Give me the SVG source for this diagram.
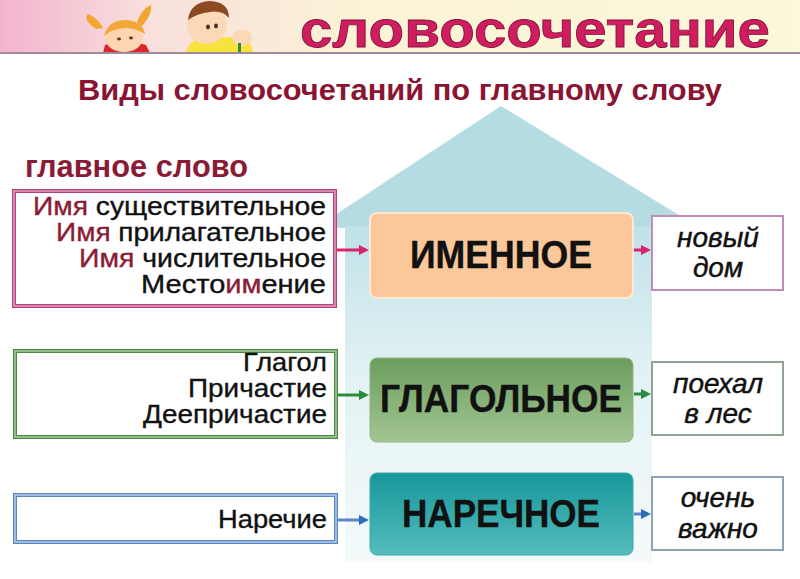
<svg xmlns="http://www.w3.org/2000/svg" width="800" height="579" viewBox="0 0 800 579">
  <defs>
    <linearGradient id="hdr" x1="0" y1="0" x2="1" y2="0">
      <stop offset="0" stop-color="#f3b3cf"/>
      <stop offset="0.18" stop-color="#f8dfdc"/>
      <stop offset="0.45" stop-color="#fbf3d6"/>
      <stop offset="1" stop-color="#fcf8db"/>
    </linearGradient>
    <linearGradient id="body" x1="0" y1="0" x2="0" y2="1">
      <stop offset="0" stop-color="#bfe2e8"/>
      <stop offset="0.45" stop-color="#e3f2f4"/>
      <stop offset="1" stop-color="#f4fafa"/>
    </linearGradient>
    <linearGradient id="gGreen" x1="0" y1="0" x2="0" y2="1">
      <stop offset="0" stop-color="#6b9d5e"/>
      <stop offset="1" stop-color="#a2c592"/>
    </linearGradient>
    <linearGradient id="gTeal" x1="0" y1="0" x2="0" y2="1">
      <stop offset="0" stop-color="#16979a"/>
      <stop offset="1" stop-color="#55bcbd"/>
    </linearGradient>
    <marker id="mPink" markerWidth="10" markerHeight="10" refX="4" refY="5" orient="auto" markerUnits="userSpaceOnUse">
      <path d="M0,0 L10,5 L0,10 z" fill="#d8236f"/>
    </marker>
    <marker id="mGreen" markerWidth="10" markerHeight="10" refX="4" refY="5" orient="auto" markerUnits="userSpaceOnUse">
      <path d="M0,0 L10,5 L0,10 z" fill="#2c8a3c"/>
    </marker>
    <marker id="mBlue" markerWidth="10" markerHeight="10" refX="4" refY="5" orient="auto" markerUnits="userSpaceOnUse">
      <path d="M0,0 L10,5 L0,10 z" fill="#2b6fb9"/>
    </marker>
    <style>
      .sans { font-family: "Liberation Sans", Arial, sans-serif; }
      .src { font-family: "Liberation Sans", Arial, sans-serif; font-size: 25px; fill: #111; stroke: #111; stroke-width: 0.35; text-anchor: end; }
      .red { fill: #8b1a35; stroke: #8b1a35; }
      .big { font-family: "Liberation Sans", Arial, sans-serif; font-size: 38px; font-weight: bold; fill: #111; stroke: #111; stroke-width: 0.4; text-anchor: middle; }
      .ex { font-family: "Liberation Sans", Arial, sans-serif; font-size: 28px; font-style: italic; fill: #111; stroke: #111; stroke-width: 0.45; text-anchor: middle; }
      .exbox { fill: #ffffff; stroke-width: 2; }
      .arrow { fill: none; stroke-width: 3; }
    </style>
  </defs>

  <rect x="0" y="0" width="800" height="579" fill="#ffffff"/>

  <!-- header -->
  <g id="header">
    <rect x="0" y="0" width="800" height="53" fill="url(#hdr)"/>
    <g id="girl">
      <path d="M96,29 C88,24 84,18 88,14 C94,16 100,22 103,28 Z" fill="#f2a531"/>
      <path d="M137,22 C140,14 144,8 151,5 C152,12 148,19 142,26 Z" fill="#f2a531"/>
      <path d="M103,53 L105,45 Q124,38 146,45 L150,53 Z" fill="#d8262b"/>
      <ellipse cx="124" cy="38" rx="19" ry="14" fill="#fcd6b1"/>
      <path d="M104,36 Q108,20 126,20 Q143,21 145,34 Q134,27 124,28 Q112,29 104,36 Z" fill="#f3a738"/>
      <ellipse cx="119" cy="39" rx="2" ry="1.4" fill="#5a3a28"/>
      <ellipse cx="131" cy="38" rx="2" ry="1.4" fill="#5a3a28"/>
    </g>
    <g id="boy">
      <path d="M186,53 Q188,40 205,38 L235,37 Q252,38 253,53 Z" fill="#f6e33c"/>
      <ellipse cx="207" cy="25" rx="20" ry="19" fill="#fcd9b6"/>
      <path d="M188,20 Q190,2 210,1 Q229,2 229,18 Q222,10 210,12 Q198,13 188,20 Z" fill="#8b4a22"/>
      <ellipse cx="208" cy="27" rx="2" ry="2.4" fill="#4a3020"/>
      <ellipse cx="216" cy="26" rx="2" ry="2.4" fill="#4a3020"/>
      <ellipse cx="242" cy="38" rx="10" ry="8" fill="#fcd9b6"/>
      <rect x="238" y="43" width="3" height="10" fill="#2f8a3a"/>
    </g>
    <line x1="0" y1="53" x2="800" y2="53" stroke="#a0899b" stroke-width="2"/>
    <text class="sans" x="300" y="47" font-size="52" font-weight="bold" fill="#cf1d5f" stroke="#7d1038" stroke-width="0.8" textLength="470" lengthAdjust="spacingAndGlyphs">словосочетание</text>
  </g>

  <text id="subtitle" class="sans" x="78" y="100" font-size="30" font-weight="bold" fill="#8b1434" textLength="644" lengthAdjust="spacingAndGlyphs">Виды словосочетаний по главному слову</text>

  <g id="house">
    <polygon points="501,106 700,228 315,228" fill="#b5dce3"/>
    <rect x="345" y="226" width="307" height="336" fill="url(#body)"/>
  </g>

  <text id="label-main-word" class="sans" x="25" y="177" font-size="31" font-weight="bold" fill="#8b1a35" textLength="223" lengthAdjust="spacingAndGlyphs">главное слово</text>

  <g id="connectors">
    <line class="arrow" x1="337" y1="250" x2="363" y2="250" stroke="#d8236f" marker-end="url(#mPink)"/>
    <line class="arrow" x1="634" y1="250" x2="645" y2="250" stroke="#d8236f" marker-end="url(#mPink)"/>
    <line class="arrow" x1="338" y1="395" x2="363" y2="395" stroke="#2c8a3c" marker-end="url(#mGreen)"/>
    <line class="arrow" x1="634" y1="394" x2="645" y2="394" stroke="#2c8a3c" marker-end="url(#mGreen)"/>
    <line class="arrow" x1="338" y1="520" x2="363" y2="520" stroke="#5b86c6" marker-end="url(#mBlue)"/>
    <line class="arrow" x1="634" y1="514" x2="645" y2="514" stroke="#5b86c6" marker-end="url(#mBlue)"/>
  </g>

  <g id="src-noun">
    <rect x="14" y="191" width="321" height="115" fill="#ffffff" stroke="#b9407a" stroke-width="4"/>
    <rect x="14" y="191" width="321" height="115" fill="none" stroke="#eab0cc" stroke-width="1.3"/>
    <text class="src" x="326" y="215" textLength="293" lengthAdjust="spacingAndGlyphs"><tspan class="red">Имя</tspan> существительное</text>
    <text class="src" x="326" y="241" textLength="270" lengthAdjust="spacingAndGlyphs"><tspan class="red">Имя</tspan> прилагательное</text>
    <text class="src" x="326" y="267" textLength="247" lengthAdjust="spacingAndGlyphs"><tspan class="red">Имя</tspan> числительное</text>
    <text class="src" x="326" y="293" textLength="185" lengthAdjust="spacingAndGlyphs">Место<tspan class="red">им</tspan>ение</text>
  </g>

  <g id="src-verb">
    <rect x="15" y="351" width="321" height="86" fill="#ffffff" stroke="#4a8a44" stroke-width="4"/>
    <rect x="15" y="351" width="321" height="86" fill="none" stroke="#b8d8ae" stroke-width="1.3"/>
    <text class="src" x="327" y="371" textLength="84" lengthAdjust="spacingAndGlyphs">Глагол</text>
    <text class="src" x="327" y="397" textLength="139" lengthAdjust="spacingAndGlyphs">Причастие</text>
    <text class="src" x="327" y="423" textLength="184" lengthAdjust="spacingAndGlyphs">Деепричастие</text>
  </g>

  <g id="src-adverb">
    <rect x="15" y="495" width="321" height="47" fill="#ffffff" stroke="#5b86c6" stroke-width="4"/>
    <rect x="15" y="495" width="321" height="47" fill="none" stroke="#c6d7ef" stroke-width="1.3"/>
    <text class="src" x="327" y="528" textLength="109" lengthAdjust="spacingAndGlyphs">Наречие</text>
  </g>

  <g id="type-noun">
    <rect x="370" y="213" width="263" height="85" rx="7" fill="#fcc79a" stroke="#fde8d6" stroke-width="2"/>
    <text class="big" x="501" y="268" textLength="182" lengthAdjust="spacingAndGlyphs">ИМЕННОЕ</text>
  </g>
  <g id="type-verb">
    <rect x="370" y="358" width="263" height="84" rx="7" fill="url(#gGreen)" stroke="#8fb482" stroke-width="1"/>
    <text class="big" x="501" y="412" textLength="242" lengthAdjust="spacingAndGlyphs">ГЛАГОЛЬНОЕ</text>
  </g>
  <g id="type-adverb">
    <rect x="370" y="473" width="263" height="82" rx="7" fill="url(#gTeal)" stroke="#3aa9ab" stroke-width="1"/>
    <text class="big" x="501" y="527" textLength="198" lengthAdjust="spacingAndGlyphs">НАРЕЧНОЕ</text>
  </g>

  <g id="ex-noun">
    <rect class="exbox" x="652" y="216" width="131" height="74" stroke="#c08db6"/>
    <text class="ex" x="718" y="247">новый</text>
    <text class="ex" x="718" y="277">дом</text>
  </g>
  <g id="ex-verb">
    <rect class="exbox" x="652" y="362" width="131" height="73" stroke="#8ea394"/>
    <text class="ex" x="718" y="393">поехал</text>
    <text class="ex" x="718" y="423">в лес</text>
  </g>
  <g id="ex-adverb">
    <rect class="exbox" x="652" y="477" width="131" height="73" stroke="#8ea2b4"/>
    <text class="ex" x="718" y="507">очень</text>
    <text class="ex" x="718" y="538">важно</text>
  </g>
</svg>
